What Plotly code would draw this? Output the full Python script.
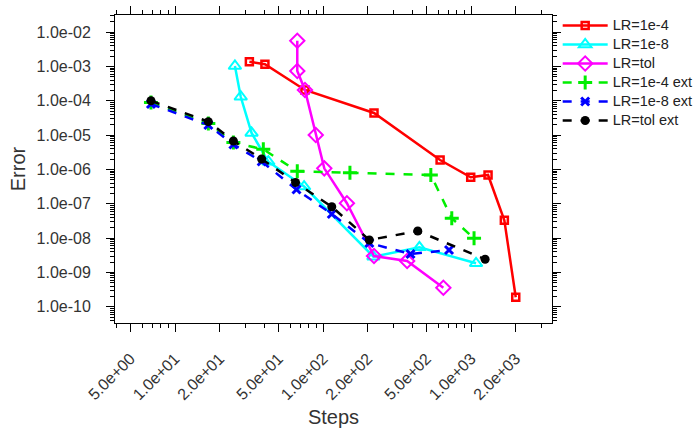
import plotly.graph_objects as go

# ---- data ----
lr4_steps = [31.8, 40.5, 75.5, 221, 618, 995, 1303, 1679, 2005]
lr4_err = [1.39e-3, 1.17e-3, 2.08e-4, 4.44e-5, 1.89e-6, 5.93e-7, 6.92e-7, 3.30e-8, 1.88e-10]

lr8_steps = [25.4, 27.8, 32.9, 42.7, 74.5, 219, 448, 1081]
lr8_err = [1.04e-3, 1.32e-4, 1.16e-5, 1.69e-6, 3.19e-7, 2.87e-9, 5.40e-9, 1.84e-9]

tol_steps = [67.0, 67.0, 75.5, 89.3, 102, 145, 221, 370, 650]
tol_err = [5.69e-3, 7.45e-4, 2.08e-4, 1.01e-5, 1.08e-6, 1.04e-7, 3.01e-9, 2.15e-9, 3.58e-10]

lr4ext_steps = [6.88, 16.8, 24.8, 39.5, 67.0, 152, 535, 741, 1048]
lr4ext_err = [9.0e-5, 2.19e-5, 6.12e-6, 3.88e-6, 8.87e-7, 8.07e-7, 6.92e-7, 3.78e-8, 9.86e-9]

lr8ext_steps = [6.88, 16.8, 24.8, 38.5, 66.2, 114.6, 205.6, 390, 710]
lr8ext_err = [8.13e-5, 1.98e-5, 5.36e-6, 1.71e-6, 2.61e-7, 5.05e-8, 7.19e-9, 3.44e-9, 4.50e-9]

tolext_steps = [6.88, 16.8, 24.8, 38.5, 65.2, 114.6, 205.6, 436.5, 1245]
tolext_err = [1.01e-4, 2.48e-5, 6.78e-6, 2.02e-6, 4.18e-7, 8.22e-8, 8.81e-9, 1.61e-8, 2.41e-9]

series_names = ["LR=1e-4", "LR=1e-8", "LR=tol", "LR=1e-4 ext", "LR=1e-8 ext", "LR=tol ext"]

x_tickvals = [5, 10, 20, 50, 100, 200, 500, 1000, 2000]
x_ticktext = ["5.0e+00", "1.0e+01", "2.0e+01", "5.0e+01", "1.0e+02", "2.0e+02",
              "5.0e+02", "1.0e+03", "2.0e+03"]
y_tickvals = [1e-2, 1e-3, 1e-4, 1e-5, 1e-6, 1e-7, 1e-8, 1e-9, 1e-10]
y_ticktext = ["1.0e-02", "1.0e-03", "1.0e-04", "1.0e-05", "1.0e-06", "1.0e-07",
              "1.0e-08", "1.0e-09", "1.0e-10"]

x_minor = [m * 10 ** e for e in range(0, 4) for m in (1, 3, 4, 6, 7, 8, 9)]
y_minor = [m * 10.0 ** e for e in range(-11, -1) for m in range(2, 10)]

FONT = "Liberation Sans, Arial, sans-serif"

fig = go.Figure()

specs = [
    (lr4_steps, lr4_err, "#ff0000", "square-open", 7, 2.5, "solid"),
    (lr8_steps, lr8_err, "#00ffff", "triangle-up-open", 11, 2.0, "solid"),
    (tol_steps, tol_err, "#ff00ff", "diamond-open", 11, 2.0, "solid"),
    (lr4ext_steps, lr4ext_err, "#00ee00", "cross-thin", 10, 3.0, "dash"),
    (lr8ext_steps, lr8ext_err, "#0000ff", "x-thin", 8, 3.0, "dash"),
    (tolext_steps, tolext_err, "#000000", "circle", 9, 0, "dash"),
]

for (xs, ys, col, sym, sz, mlw, dash), name in zip(specs, series_names):
    fig.add_trace(go.Scatter(
        x=xs, y=ys, mode="lines+markers",
        name='<span style="font-size:14.5px">' + name + '</span>',
        line=dict(color=col, width=2.5, dash=dash),
        marker=dict(symbol=sym, size=sz, color=col,
                    line=dict(color=col, width=mlw)),
    ))

axis_common = dict(
    type="log", showgrid=False, zeroline=False,
    showline=True, linecolor="black", linewidth=1, mirror="ticks",
    ticks="outside", ticklen=8, tickcolor="black", tickwidth=1,
    tickfont=dict(family=FONT, size=16, color="#333333"),
    tickmode="array",
)

fig.update_xaxes(
    **axis_common,
    range=[0.5946, 3.547],
    tickvals=x_tickvals, ticktext=x_ticktext, tickangle=-45,
    ticklabelstandoff=11,
    minor=dict(tickmode="array", tickvals=x_minor, ticks="outside",
               ticklen=4, tickcolor="black", tickwidth=1),
    title=dict(text="Steps", standoff=7,
               font=dict(family=FONT, size=20, color="#333333")),
)
fig.update_yaxes(
    **axis_common,
    range=[-10.475, -1.496],
    tickvals=y_tickvals, ticktext=y_ticktext,
    ticklabelstandoff=12,
    minor=dict(tickmode="array", tickvals=y_minor, ticks="outside",
               ticklen=4, tickcolor="black", tickwidth=1),
    title=dict(text="Error", standoff=5,
               font=dict(family=FONT, size=20, color="#333333")),
)

fig.update_layout(
    width=697, height=437,
    margin=dict(l=115, r=145, t=15, b=114, autoexpand=False),
    plot_bgcolor="white", paper_bgcolor="white",
    showlegend=True,
    legend=dict(x=1.013, y=1.013, xanchor="left", yanchor="top",
                font=dict(family=FONT, size=11.8, color="#222222"),
                bgcolor="rgba(0,0,0,0)", tracegroupgap=0, itemwidth=45),
)

fig.write_html("out.html")
